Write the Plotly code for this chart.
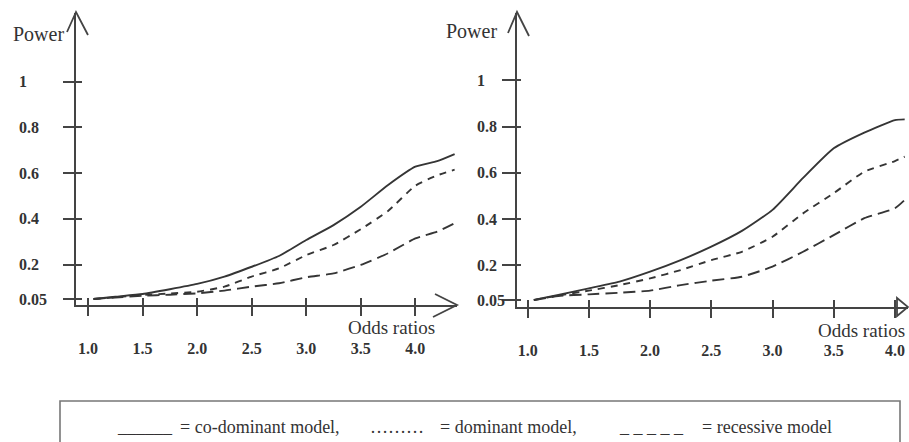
import plotly.graph_objects as go

W, H = 909, 442

# ---------------- data ----------------
or_left = [1.05, 1.25, 1.5, 1.75, 2.0, 2.25, 2.5, 2.75, 3.0, 3.25, 3.5, 3.75, 4.0, 4.2, 4.36]
left_codominant = [0.050, 0.060, 0.072, 0.093, 0.116, 0.148, 0.191, 0.238, 0.308, 0.373, 0.453, 0.548, 0.628, 0.652, 0.683]
left_dominant = [0.050, 0.058, 0.068, 0.074, 0.082, 0.104, 0.148, 0.184, 0.242, 0.286, 0.355, 0.435, 0.545, 0.590, 0.615]
left_recessive = [0.050, 0.057, 0.064, 0.069, 0.075, 0.087, 0.104, 0.119, 0.145, 0.162, 0.199, 0.250, 0.315, 0.344, 0.381]

or_right = [1.05, 1.25, 1.5, 1.75, 2.0, 2.25, 2.5, 2.75, 3.0, 3.25, 3.5, 3.75, 4.0, 4.08]
right_codominant = [0.051, 0.072, 0.101, 0.130, 0.173, 0.223, 0.281, 0.349, 0.440, 0.578, 0.706, 0.774, 0.828, 0.831]
right_dominant = [0.050, 0.070, 0.091, 0.115, 0.144, 0.180, 0.223, 0.259, 0.324, 0.425, 0.512, 0.605, 0.651, 0.670]
right_recessive = [0.050, 0.068, 0.075, 0.082, 0.091, 0.115, 0.134, 0.151, 0.195, 0.259, 0.331, 0.404, 0.447, 0.483]

x_tick_vals = [1.0, 1.5, 2.0, 2.5, 3.0, 3.5, 4.0]
x_tick_text = ["1.0", "1.5", "2.0", "2.5", "3.0", "3.5", "4.0"]
y_tick_vals = [0.05, 0.2, 0.4, 0.6, 0.8, 1.0]
y_tick_text = ["0.05", "0.2", "0.4", "0.6", "0.8", "1"]

y_title = "Power"
x_title = "Odds ratios"
legend_parts = [
    ("______", 115),
    ("= co-dominant model,", 178),
    ("\u2026\u2026\u2026", 368),
    ("= dominant model,", 438),
    ("_ _ _ _ _", 617),
    ("= recessive model", 700),
]

# ---------------- styling / geometry ----------------
INK = "#353535"
AX = "#444444"
SERIF = "Liberation Serif"


def fx(px):
    return px / W


def fy(py):
    return 1 - py / H


# pixel geometry of the two panels (axis lines)
L = dict(x0=76, x1=457, ybot=305, ytop=13)
R = dict(x0=517, x1=908, ybot=307, ytop=13)


# linear pixel<->value calibrations of the hand-drawn axes
def lx(px):
    return 2.5 + (px - 251.7) / 109.1


def ly(py):
    return 1 - (py - 81.5) / 229.0


def rx(px):
    return 2.5 + (px - 711.3) / 122.4


def ry(py):
    return 1 - (py - 80.3) / 231.4


fig = go.Figure()

dash_styles = ["solid", "7px,6px", "12px,6px"]
names = ["co-dominant model", "dominant model", "recessive model"]

for ys, d, n in zip([left_codominant, left_dominant, left_recessive], dash_styles, names):
    fig.add_trace(go.Scatter(x=or_left, y=ys, mode="lines", name=n, showlegend=False,
                             line=dict(color=INK, width=1.9, dash=d, shape="spline", smoothing=0.5),
                             xaxis="x", yaxis="y"))
for ys, d, n in zip([right_codominant, right_dominant, right_recessive], dash_styles, names):
    fig.add_trace(go.Scatter(x=or_right, y=ys, mode="lines", name=n, showlegend=False,
                             line=dict(color=INK, width=1.9, dash=d, shape="spline", smoothing=0.5),
                             xaxis="x2", yaxis="y2"))

# empty traces to activate overlay axes (inner half of the crossing ticks)
fig.add_trace(go.Scatter(x=[], y=[], xaxis="x3", yaxis="y3", showlegend=False, hoverinfo="skip"))
fig.add_trace(go.Scatter(x=[], y=[], xaxis="x4", yaxis="y4", showlegend=False, hoverinfo="skip"))

tickfont = dict(family=SERIF, size=16, color="#333333", weight=700)


def main_x(dom, rng, anchor):
    return dict(domain=dom, range=rng, anchor=anchor, showline=True, linecolor=AX, linewidth=2,
                ticks="outside", ticklen=9, tickwidth=1.6, tickcolor=AX,
                tickmode="array", tickvals=x_tick_vals, ticktext=x_tick_text,
                tickfont=tickfont, ticklabelstandoff=19,
                showgrid=False, zeroline=False, fixedrange=True)


def main_y(dom, rng, anchor, tl):
    return dict(domain=dom, range=rng, anchor=anchor, showline=True, linecolor=AX, linewidth=2,
                ticks="outside", ticklen=tl, tickwidth=1.6, tickcolor=AX,
                tickmode="array", tickvals=y_tick_vals, showticklabels=False,
                showgrid=False, zeroline=False, fixedrange=True)


def over_x(over, rng, anchor):
    return dict(overlaying=over, range=rng, anchor=anchor, showline=False,
                ticks="inside", ticklen=7, tickwidth=1.6, tickcolor=AX,
                tickmode="array", tickvals=x_tick_vals, showticklabels=False,
                showgrid=False, zeroline=False, fixedrange=True)


def over_y(over, rng, anchor, tl):
    return dict(overlaying=over, range=rng, anchor=anchor, showline=False,
                ticks="inside", ticklen=tl, tickwidth=1.6, tickcolor=AX,
                tickmode="array", tickvals=y_tick_vals, showticklabels=False,
                showgrid=False, zeroline=False, fixedrange=True)


lxr = [lx(L["x0"]), lx(L["x1"])]
lyr = [ly(L["ybot"]), ly(L["ytop"])]
rxr = [rx(R["x0"]), rx(R["x1"])]
ryr = [ry(R["ybot"]), ry(R["ytop"])]

fig.update_layout(
    width=W, height=H, autosize=False,
    margin=dict(l=0, r=0, t=0, b=0),
    paper_bgcolor="white", plot_bgcolor="rgba(0,0,0,0)",
    showlegend=False,
    xaxis=main_x([fx(L["x0"]), fx(L["x1"])], lxr, "y"),
    yaxis=main_y([fy(L["ybot"]), fy(L["ytop"])], lyr, "x", 11),
    xaxis2=main_x([fx(R["x0"]), fx(R["x1"])], rxr, "y2"),
    yaxis2=main_y([fy(R["ybot"]), fy(R["ytop"])], ryr, "x2", 13),
    xaxis3=over_x("x", lxr, "y3"),
    yaxis3=over_y("y", lyr, "x3", 6),
    xaxis4=over_x("x2", rxr, "y4"),
    yaxis4=over_y("y2", ryr, "x4", 4),
)

ann = []
# y tick labels (left-aligned like the reference)
for v, t in zip(y_tick_vals, y_tick_text):
    ann.append(dict(x=fx(17), xref="paper", y=v, yref="y", text=t, showarrow=False,
                    xanchor="left", yanchor="middle", font=tickfont))
    ann.append(dict(x=fx(475), xref="paper", y=v, yref="y2", text=t, showarrow=False,
                    xanchor="left", yanchor="middle", font=tickfont))

titlefont = dict(family=SERIF, size=20, color="#333333")
ann.append(dict(x=fx(11), y=fy(34), xref="paper", yref="paper", text=y_title, showarrow=False,
                xanchor="left", yanchor="middle", font=titlefont))
ann.append(dict(x=fx(444), y=fy(31), xref="paper", yref="paper", text=y_title, showarrow=False,
                xanchor="left", yanchor="middle", font=titlefont))

xtfont = dict(family=SERIF, size=19, color="#333333")
ann.append(dict(x=fx(437), y=fy(327), xref="paper", yref="paper", text=x_title, showarrow=False,
                xanchor="right", yanchor="middle", font=xtfont))
ann.append(dict(x=fx(907), y=fy(330), xref="paper", yref="paper", text=x_title, showarrow=False,
                xanchor="right", yanchor="middle", font=xtfont))

legfont = dict(family=SERIF, size=18, color="#333333")
for txt, px in legend_parts:
    ann.append(dict(x=fx(px), y=fy(427), xref="paper", yref="paper", text=txt, showarrow=False,
                    xanchor="left", yanchor="middle", font=legfont))

fig.update_layout(annotations=ann)


def path(points, close=False):
    s = "M " + " L ".join(f"{fx(a):.5f},{fy(b):.5f}" for a, b in points)
    return s + (" Z" if close else "")


arrow_line = dict(color=AX, width=1.8)
shapes = [
    # y-axis chevrons
    dict(type="path", xref="paper", yref="paper", path=path([(67, 32), (76, 12), (88, 35)]), line=arrow_line),
    dict(type="path", xref="paper", yref="paper", path=path([(508, 33), (517, 12), (529, 36)]), line=arrow_line),
    # x-axis arrows
    dict(type="path", xref="paper", yref="paper", path=path([(435, 294), (457, 305), (433, 317)]), line=arrow_line),
    dict(type="path", xref="paper", yref="paper", path=path([(897, 298), (908, 307), (897, 316)], close=True), line=arrow_line),
    # legend frame
    dict(type="rect", xref="paper", yref="paper", x0=fx(60), x1=fx(900), y0=fy(401), y1=fy(446),
         line=dict(color="#777777", width=1.6)),
]
fig.update_layout(shapes=shapes)

fig.write_html("out.html")
